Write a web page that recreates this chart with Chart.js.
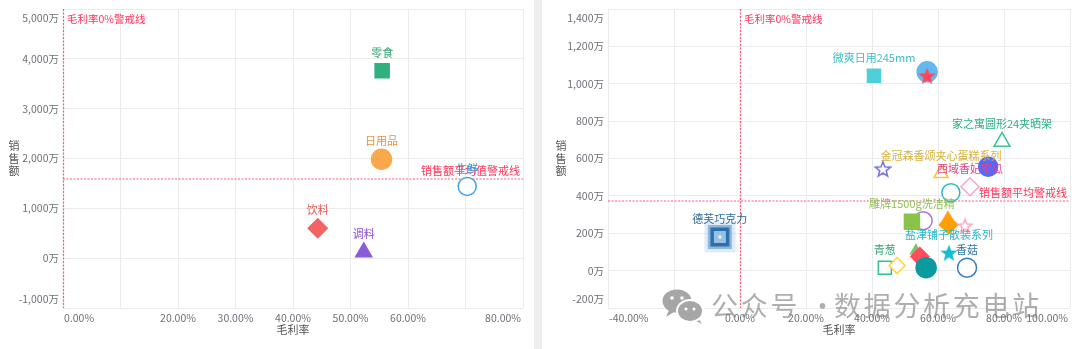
<!DOCTYPE html>
<html>
<head>
<meta charset="utf-8">
<script src="https://cdn.jsdelivr.net/npm/chart.js@4/dist/chart.umd.min.js"></script>
<style>
  body { margin: 0; width: 1080px; height: 349px; background: #eeeeee; position: relative; overflow: hidden; }
  .panel { position: absolute; top: 0; height: 349px; background: #fff; }
  #p1 { left: 0; width: 534px; }
  #p2 { left: 542px; width: 538px; }
  #wm { position: absolute; left: 0; top: 0; width: 1080px; height: 349px; pointer-events: none; }
  #wm svg { position: absolute; left: 660px; top: 287px; }
  #wm span { position: absolute; top: 290px; font: 27px/30px "Noto Sans CJK SC", sans-serif; letter-spacing: 2.7px; color: rgba(125, 125, 125, 0.62); white-space: nowrap; }
</style>
</head>
<body>
<div class="panel" id="p1"><canvas id="leftChart"></canvas></div>
<div class="panel" id="p2"><canvas id="rightChart"></canvas></div>
<div id="wm">
  <svg width="46" height="40" viewBox="0 0 46 40">
    <path d="M9 23 L6 30 L14 25 Z" fill="#a6a6a6"/>
    <ellipse cx="17" cy="14" rx="14.5" ry="11.5" fill="#a6a6a6"/>
    <circle cx="12" cy="11" r="1.8" fill="#fff"/>
    <circle cx="22" cy="11" r="1.8" fill="#fff"/>
    <path d="M38 31 L42 37 L34 33 Z" fill="#a6a6a6"/>
    <ellipse cx="30" cy="24" rx="13" ry="11" fill="#a6a6a6" stroke="#fff" stroke-width="2"/>
    <circle cx="26" cy="22" r="1.5" fill="#fff"/>
    <circle cx="34" cy="22" r="1.5" fill="#fff"/>
  </svg>
  <span style="left:711px">公众号</span>
  <span style="left:809px">·</span>
  <span style="left:834px">数据分析充电站</span>
</div>
<script>
const FONT = '"Noto Sans CJK SC", "Noto Sans", sans-serif';

// category overview (left)
const catNames = ['零食', '日用品', '生鲜', '饮料', '调料'];
const catMargin = [55.5, 55.4, 70.3, 44.3, 52.3];   // 毛利率 %
const catSales = [3760, 1985, 1440, 600, 120];      // 销售额 万
const catXTicks = [0, 20, 30, 40, 50, 60, 80];
const catYTicks = [-1000, 0, 1000, 2000, 3000, 4000, 5000];

// product detail (right)
const prodNames = ['微爽日用245mm', '', '', '家之寓圆形24夹晒架', '', '金冠森香颂夹心蛋糕系列', '',
  '西域香妃蜜瓜', '', '', '雕牌1500g洗洁精', '', '', '', '盐津铺子散装系列', '香菇', '青葱', '', '', '', '', '德芙巧克力'];
const prodMargin = [40.6, 56.7, 56.7, 79.4, 43.3, 60.9, 75.2, 69.7, 63.9, 55.5, 52.1, 63.0, 63.2, 68.2,
  63.3, 68.8, 43.9, 47.6, 53.3, 54.5, 56.4, -6.1];
const prodSales = [1043, 1064, 1043, 690, 545, 520, 556, 449, 417, 267, 262, 267, 246, 241,
  96, 16, 16, 27, 107, 75, 16, 180];
const prodXTicks = [-40, 0, 20, 40, 60, 80, 100];
const prodYTicks = [-200, 0, 200, 400, 600, 800, 1000, 1200, 1400];

// marker helpers
function starImg(size, fill, stroke) {
  const c = document.createElement('canvas');
  c.width = c.height = size + 4;
  const g = c.getContext('2d');
  const cx = c.width / 2, cy = c.height / 2 + size * 0.05, R = size / 2, r = R * 0.42;
  g.beginPath();
  for (let k = 0; k < 10; k++) {
    const rad = k % 2 ? r : R;
    const ang = -Math.PI / 2 + k * Math.PI / 5;
    g.lineTo(cx + rad * Math.cos(ang), cy + rad * Math.sin(ang));
  }
  g.closePath();
  g.fillStyle = fill;
  g.fill();
  if (stroke) { g.strokeStyle = stroke; g.lineWidth = 1.5; g.stroke(); }
  return c;
}

function rippleSquare() {
  const c = document.createElement('canvas');
  c.width = c.height = 32;
  const g = c.getContext('2d');
  const sq = (s, col) => { g.fillStyle = col; g.fillRect(16 - s / 2, 16 - s / 2, s, s); };
  sq(31, 'rgba(150,190,225,0.3)');
  sq(24, 'rgba(90,150,205,0.6)');
  sq(19, '#2e6fab');
  sq(12, '#97c1e4');
  sq(3, '#eef5fb');
  return c;
}

const catStyles = ['rect', 'circle', 'circle', 'rectRot', 'triangle'];
const catColors = ['#2fb07e', '#f9a94b', '#3ba2ee', '#f26464', '#8a5cd6'];
const catFills = ['#2fb07e', '#f9a94b', '#ffffff', '#f26464', '#8a5cd6'];
const catRadius = [9.9, 10, 9, 9.5, 9.2];
const catLabelColors = ['#3aa57a', '#e39244', '#3a96e0', '#e05a5a', '#8a4fd0'];

const prodStyles = ['rect', 'circle', starImg(18, '#ff4757'), 'triangle', starImg(16, '#ffffff', '#6f6fd8'),
  'triangle', 'circle', 'rectRot', 'circle', 'circle', 'rect', 'triangle', 'rectRot', starImg(14, '#ffffff', '#f7a8c8'),
  starImg(18, '#14bdd4'), 'circle', 'rect', 'rectRot', 'triangle', 'rectRot', 'circle', rippleSquare()];
const prodColors = ['#4fd0d8', '#63b8f0', '#ff4757', '#3ec28f', '#6f6fd8', '#ffc53d', '#5468ff', '#f7a8c8',
  '#2ab7ca', '#b070d8', '#8bc34a', '#ff9f2e', '#ffa000', '#f7a8c8', '#14bdd4', '#3d7ebf', '#35c08a',
  '#ffd633', '#7cc36a', '#ff4d5e', '#0a9aa0', '#2e6fab'];
const prodFills = ['#4fd0d8', '#63b8f0', '#ff4757', '#ffffff', '#ffffff', '#ffffff', '#5468ff', '#ffffff',
  '#ffffff', '#ffffff', '#8bc34a', '#ff9f2e', '#ffa000', '#ffffff', '#14bdd4', '#ffffff', '#ffffff',
  '#ffffff', '#7cc36a', '#ff4d5e', '#0a9aa0', '#2e6fab'];
const prodRadius = [9.2, 10, 9, 9.2, 8, 8.1, 9.5, 9, 9, 9, 10.6, 9, 9, 7, 9, 9.5, 9.2, 8, 6, 9, 10, 16];
const prodLabelColors = prodColors.map(() => '#666');
Object.assign(prodLabelColors, { 0: '#3bbfc8', 3: '#2fae7f', 5: '#d4b13a', 7: '#e0467f', 10: '#8fbf56',
  14: '#29b6c9', 15: '#2f78a8', 16: '#3aa57a', 21: '#2f6a9e' });

const mean = arr => arr.reduce((s, v) => s + v, 0) / arr.length;

// tick labels, axis names
function axisText(xTicks, yTicks, titleX) {
  return {
    id: 'axisText',
    afterDraw(chart) {
      const { ctx, chartArea: a, scales: { x, y } } = chart;
      ctx.save();
      ctx.font = '10.5px ' + FONT;
      ctx.fillStyle = '#6e7079';
      ctx.textBaseline = 'middle';
      xTicks.forEach((v, i) => {
        const first = i === 0, last = i === xTicks.length - 1;
        ctx.textAlign = first ? 'left' : (last ? 'right' : 'center');
        ctx.fillText(v.toFixed(2) + '%', x.getPixelForValue(v) + (first ? 1 : last ? -2 : 0), a.bottom + 10);
      });
      ctx.textAlign = 'right';
      yTicks.forEach((v, i) => {
        let py = y.getPixelForValue(v);
        if (i === 0) py -= 9;
        if (i === yTicks.length - 1) py += 9;
        ctx.fillText(v.toLocaleString('en-US') + '万', a.left - 4, py);
      });
      ctx.font = '11px ' + FONT;
      ctx.fillStyle = '#555';
      ctx.textAlign = 'center';
      ctx.fillText('毛利率', (a.left + a.right) / 2, a.bottom + 22);
      const mid = (a.top + a.bottom) / 2;
      ['销', '售', '额'].forEach((ch, k) => ctx.fillText(ch, titleX, mid + (k - 1) * 12.5));
      ctx.restore();
    }
  };
}

// warning lines: 0% margin and average sales
function guideLines(avg, avgText) {
  return {
    id: 'guideLines',
    beforeDatasetsDraw(chart) {
      const { ctx, chartArea: a, scales: { x, y } } = chart;
      const px = Math.round(x.getPixelForValue(0)) + 0.5;
      const py = Math.round(y.getPixelForValue(avg));
      ctx.save();
      ctx.strokeStyle = '#ff5a78';
      ctx.lineWidth = 1.2;
      ctx.setLineDash([2, 1.5]);
      ctx.beginPath();
      ctx.moveTo(px, a.top); ctx.lineTo(px, a.bottom);
      ctx.moveTo(a.left, py); ctx.lineTo(a.right, py);
      ctx.stroke();
      ctx.setLineDash([]);
      ctx.fillStyle = '#ff3358';
      ctx.textBaseline = 'middle';
      ctx.textAlign = 'left';
      ctx.font = '10.5px ' + FONT;
      ctx.fillText('毛利率0%警戒线', px + 3.5, a.top + 10);
      ctx.textAlign = 'right';
      ctx.font = '11px ' + FONT;
      ctx.fillText(avgText, a.right - 3, py - 8);
      ctx.restore();
    }
  };
}

function pointNames(names, colors) {
  return {
    id: 'pointNames',
    afterDatasetsDraw(chart) {
      const { ctx } = chart;
      ctx.save();
      ctx.font = '11px ' + FONT;
      ctx.textAlign = 'center';
      ctx.textBaseline = 'middle';
      chart.getDatasetMeta(0).data.forEach((pt, i) => {
        if (!names[i]) return;
        ctx.fillStyle = colors[i];
        ctx.fillText(names[i], pt.x, pt.y - 18);
      });
      ctx.restore();
    }
  };
}

function makeChart(id, cfg) {
  return new Chart(document.getElementById(id), {
    type: 'scatter',
    data: {
      datasets: [{
        data: cfg.xs.map((v, i) => ({ x: v, y: cfg.ys[i] })),
        pointStyle: cfg.styles,
        pointRadius: cfg.radius,
        pointBackgroundColor: cfg.fills,
        pointBorderColor: cfg.colors,
        pointBorderWidth: 1.5,
        clip: false
      }]
    },
    options: {
      responsive: true,
      maintainAspectRatio: false,
      animation: false,
      events: [],
      layout: { autoPadding: false, padding: { top: 9, right: cfg.padRight, left: 0, bottom: 0 } },
      plugins: { legend: { display: false }, tooltip: { enabled: false } },
      scales: {
        x: {
          type: 'linear', min: cfg.xMin, max: cfg.xMax,
          ticks: { stepSize: cfg.xStep, display: false },
          grid: { color: '#ebebeb', drawTicks: false },
          border: { display: false },
          afterFit: s => { s.height = 41; }
        },
        y: {
          type: 'linear', min: cfg.yMin, max: cfg.yMax,
          ticks: { stepSize: cfg.yStep, display: false },
          grid: { color: '#ebebeb', drawTicks: false },
          border: { display: false },
          afterFit: s => { s.width = cfg.yWidth; }
        }
      }
    },
    plugins: [
      guideLines(mean(cfg.ys), cfg.avgText),
      pointNames(cfg.names, cfg.labelColors),
      axisText(cfg.xTicks, cfg.yTicks, cfg.titleX)
    ]
  });
}

makeChart('leftChart', {
  xs: catMargin, ys: catSales, names: catNames,
  styles: catStyles, colors: catColors, fills: catFills, radius: catRadius, labelColors: catLabelColors,
  xMin: 0, xMax: 80, xStep: 10, yMin: -1000, yMax: 5000, yStep: 1000,
  xTicks: catXTicks, yTicks: catYTicks,
  yWidth: 63, padRight: 11, titleX: 14, avgText: '销售额平均值警戒线'
});

makeChart('rightChart', {
  xs: prodMargin, ys: prodSales, names: prodNames,
  styles: prodStyles, colors: prodColors, fills: prodFills, radius: prodRadius, labelColors: prodLabelColors,
  xMin: -40, xMax: 100, xStep: 20, yMin: -200, yMax: 1400, yStep: 200,
  xTicks: prodXTicks, yTicks: prodYTicks,
  yWidth: 66, padRight: 10, titleX: 19, avgText: '销售额平均警戒线'
});
</script>
</body>
</html>
